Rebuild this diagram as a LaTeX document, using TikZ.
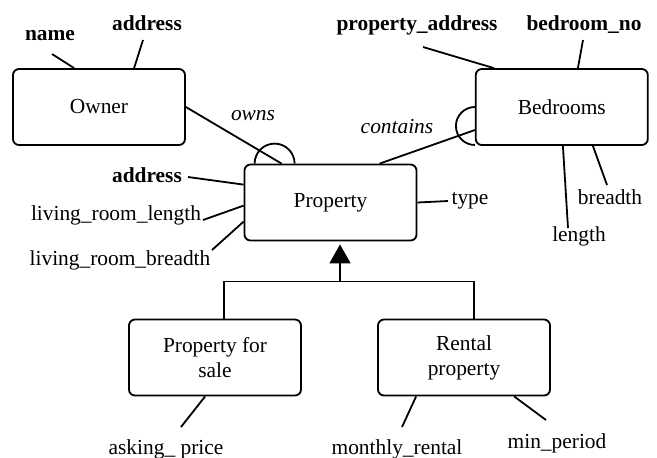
\documentclass[tikz,border=0pt]{standalone}
\usepackage{fontspec}
\setmainfont{Liberation Serif}
\usetikzlibrary{arrows.meta, positioning}

\begin{document}
\begin{tikzpicture}[
    x=0.5pt, y=-0.5pt,
    line width=0.9pt,
    every node/.style={font=\fontsize{10.7}{12.5}\selectfont},
    ent/.style={rectangle, rounded corners=3pt, draw, minimum width=86pt,
                minimum height=38pt, align=center},
    attr/.style={anchor=base, inner sep=2pt},
    key/.style={attr, font=\fontsize{10.7}{12.5}\selectfont\bfseries},
    rel/.style={anchor=base, font=\fontsize{10.7}{12.5}\selectfont\itshape},
    isa/.style={-{Triangle[width=10.5pt,length=9.5pt]}}
  ]

  \useasboundingbox (0,0) rectangle (657,457);

  %% Entities
  \node[ent] (owner) at (99,107) {Owner};
  \node[ent, right=144.5pt of owner] (bed) {Bedrooms};
  \node[ent] (prop) at (330.5,202.5) {Property};
  \node[ent] (sale) at (215,357.5) {Property for\\sale};
  \node[ent] (rent) at (464,357.5) {Rental\\property};

  %% Attributes
  \node[key]  (oname) at (50,40)   {name};
  \node[key]  (oaddr) at (147,30)  {address};
  \node[key]  (baddr) at (417,30)  {property\_address};
  \node[key]  (bno)   at (584,30)  {bedroom\_no};
  \node[attr] (bbre)  at (610,204) {breadth};
  \node[attr] (blen)  at (579,241) {length};
  \node[attr] (ptype) at (470,204) {type};
  \node[key]  (paddr) at (147,182) {address};
  \node[attr] (plrl)  at (116,220) {living\_room\_length};
  \node[attr] (plrb)  at (120,265) {living\_room\_breadth};
  \node[attr] (sask)  at (166,454) {asking\_ price};
  \node[attr] (rmon)  at (397,454) {monthly\_rental};
  \node[attr] (rmin)  at (557,448) {min\_period};

  %% Relationship labels
  \node[rel] (owns) at (253,120) {owns};
  \node[rel] (cont) at (397,133) {contains};

  %% Attribute links
  \draw ([shift={(2,14)}]oname.base)   -- ([shift={(62,0)}]owner.north west);
  \draw ([shift={(-4,10)}]oaddr.base)  -- ([shift={(122,0)}]owner.north west);
  \draw ([shift={(6,17)}]baddr.base)   -- ([shift={(19,0)}]bed.north west);
  \draw ([shift={(-1,10)}]bno.base)    -- ([shift={(103,0)}]bed.north west);
  \draw ([shift={(-3,-19)}]bbre.base)  -- ([shift={(118,0)}]bed.south west);
  \draw ([shift={(-11,-13)}]blen.base) -- ([shift={(88,0)}]bed.south west);
  \draw ([shift={(-22,-3)}]ptype.base) -- (prop.east);
  \draw ([shift={(41,-5)}]paddr.base)  -- ([shift={(0,21)}]prop.north west);
  \draw ([shift={(87,0)}]plrl.base)    -- ([shift={(0,42)}]prop.north west);
  \draw ([shift={(92,-15)}]plrb.base)  -- ([shift={(0,58)}]prop.north west);
  \draw ([shift={(15,-27)}]sask.base)  -- ([shift={(77,0)}]sale.south west);
  \draw ([shift={(5,-27)}]rmon.base)   -- ([shift={(39,0)}]rent.south west);
  \draw ([shift={(-11,-28)}]rmin.base) -- ([shift={(137,0)}]rent.south west);

  %% Relationships
  \draw (owner.east) -- ([shift={(38,0)}]prop.north west);
  \draw ([shift={(51,0)}]prop.north west) arc[start angle=0, end angle=180, radius=10pt];
  \draw ([shift={(136,0)}]prop.north west) -- ([shift={(0,23)}]bed.west);
  \draw (bed.west) arc[start angle=90, end angle=270, radius=9.5pt];

  %% Generalisation
  \coordinate (join) at ([shift={(9.5,40)}]prop.south);
  \draw[isa, shorten >=1.5pt] (join) -- (join |- prop.south);
  \draw ([shift={(9,0)}]sale.north) |- (join) -| ([shift={(10,0)}]rent.north);

\end{tikzpicture}
\end{document}
